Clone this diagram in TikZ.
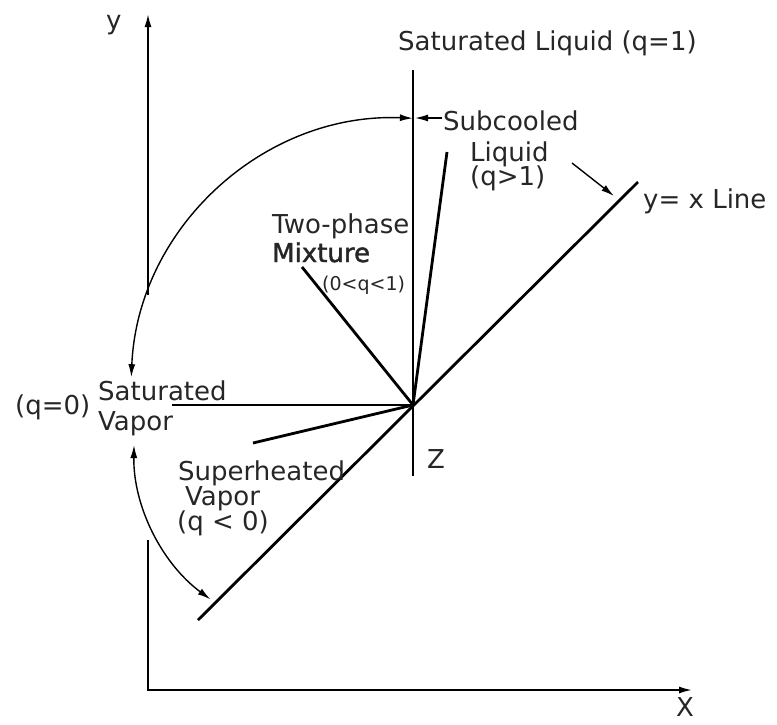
\documentclass[tikz,border=0pt]{standalone}
\usepackage{fontspec}
\setmainfont{DejaVu Sans}
\usetikzlibrary{arrows.meta,calc}
\begin{document}
\begin{tikzpicture}[x=1pt,y=-1pt,
  main/.style={line width=2.8pt},
  axis/.style={line width=1.8pt},
  arcline/.style={line width=1.4pt},
  tipend/.style={-{Latex[length=13pt,width=7pt]}},
  tipboth/.style={{Latex[length=13pt,width=7pt]}-{Latex[length=13pt,width=7pt]}},
  lbl/.style={inner sep=0pt, anchor=base west, font=\fontsize{26}{30}\selectfont, text=black!85},
  smalllbl/.style={inner sep=0pt, anchor=base west, font=\fontsize{19}{22}\selectfont, text=black!85}
]
\useasboundingbox (0,0) rectangle (777,724);
% key points
\coordinate (Z) at (413,405);
\coordinate (vtop) at (413,70);
\coordinate (vbot) at (413,476);
\coordinate (dlow) at (198,620);
\coordinate (dup) at (638,182);
\coordinate (rsat) at (172,405);
\coordinate (rsup) at (253,443);
\coordinate (rtwo) at (302,267);
\coordinate (rsub) at (447,152);
% axes
\coordinate (yaxtop) at (148,14);
\coordinate (yaxcut) at (148,295);
\coordinate (ylow) at (148,540);
\coordinate (origin) at (148,690);
\coordinate (xend) at (692,690);
\draw[axis,tipend] (yaxcut) -- (yaxtop);
\draw[axis,tipend] (ylow) -- (origin) -- (xend);
% main lines
\draw[main] (vtop) -- (vbot);
\draw[main] (dlow) -- (dup);
\draw[main] (Z) -- (rsat);
\draw[main] (Z) -- (rsup);
\draw[main] (Z) -- (rtwo);
\draw[main] (Z) -- (rsub);
% arcs
\coordinate (c1) at (402,389);
\coordinate (c2) at (322,448);
\draw[arcline,tipboth] ($(c1)+(182.5:271)$) arc[start angle=182.5, end angle=272.3, radius=271];
\draw[arcline,tipboth] ($(c2)+(180.9:188)$) arc[start angle=180.9, end angle=126.4, radius=188];
% leaders
\coordinate (subl) at (442,118);
\coordinate (subt) at (415,118);
\draw[arcline,tipend] (subl) -- (subt);
\coordinate (yxl) at (572,163);
\coordinate (yxt) at (614,196);
\draw[arcline,tipend] (yxl) -- (yxt);
% labels
\node[lbl] (lsatliq) at (398,50) {Saturated Liquid (q=1)};
\node[lbl] (lsub1) at (443,130) {Subcooled};
\node[lbl] (lsub2) at (470,161) {Liquid};
\node[lbl] (lsub3) at (470,185) {(q>1)};
\node[lbl] (lyx) at (643,208) {y= x Line};
\node[lbl] (ltwo1) at (272,233) {Two-phase};
\node[lbl,font=\fontsize{26}{30}\selectfont\addfontfeature{FakeBold=1.6}] (ltwo2) at (272,262) {Mixture};
\node[smalllbl] (ltwo3) at (322,290) {(0<q<1)};
\node[lbl] (lq0) at (15,414) {(q=0)};
\node[lbl] (lsv1) at (98,400) {Saturated};
\node[lbl] (lsv2) at (98,430) {Vapor};
\node[lbl] (lsh1) at (178,480) {Superheated};
\node[lbl] (lsh2) at (185,505) {Vapor};
\node[lbl] (lsh3) at (177,530) {(q < 0)};
\node[lbl] (lZ) at (427,468) {Z};
\node[lbl] (ly) at (106,29) {y};
\node[lbl] (lX) at (676,716) {X};
\end{tikzpicture}
\end{document}
